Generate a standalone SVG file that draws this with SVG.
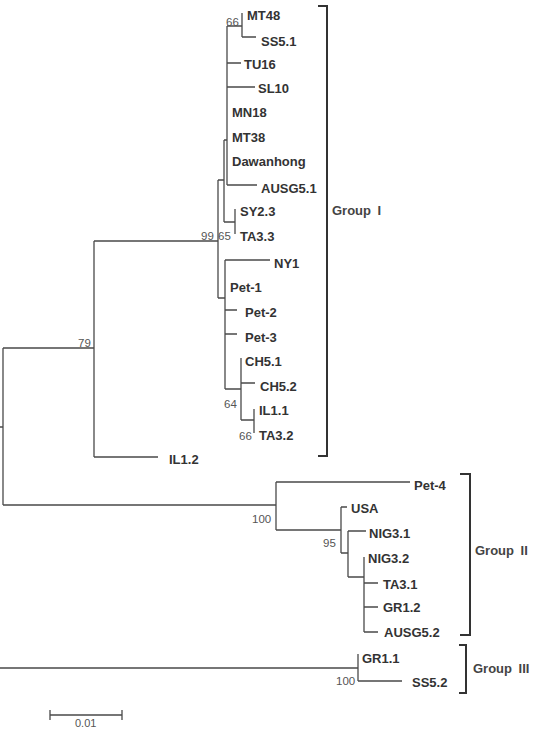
<svg xmlns="http://www.w3.org/2000/svg" width="540" height="729" viewBox="0 0 540 729">
<style>
.e{stroke:#4a4a4a;stroke-width:1.3;fill:none}
.b{stroke:#333;stroke-width:2;fill:none}
.t{font-family:"Liberation Sans",Arial,sans-serif;font-weight:bold;font-size:13px;fill:#333}
.s{font-family:"Liberation Sans",Arial,sans-serif;font-size:11.5px;fill:#555}
.g{font-family:"Liberation Sans",Arial,sans-serif;font-weight:bold;font-size:13px;fill:#444;word-spacing:3px}
</style>
<rect width="540" height="729" fill="#fff"/>
<g id="connectors">
<path class="e" d="M0 427H3M3 348V505M3 348H94M3 505H276"/>
<path class="e" d="M94 241V457M94 457H158M94 241H218"/>
<path class="e" d="M218 180V298M218 180H224M218 298H225"/>
<path class="e" d="M224 140V222M224 140H227M224 222H235M235 209V234"/>
<path class="e" d="M227 26V185M227 26H242M242 13V37M242 37H256M227 63H241M227 87H255M227 185H257"/>
<path class="e" d="M225 260V389M225 260H270M225 310H237M225 334H237M225 389H241M241 358V420M241 383H255M241 420H254M254 409V433"/>
<path class="e" d="M276 482V530M276 482H410M276 530H341M341 507V553M341 507H347M341 553H348M348 531V577M348 531H366M348 577H364M364 557V632M364 583H378M364 607H378M364 632H378"/>
<path class="e" d="M0 668H358M358 654V681M358 681H402"/>
<path class="e" d="M50 715H122M50 710V720M122 710V720"/>
</g>
<g id="brackets">
<path class="b" d="M318 6H327V456H318"/>
<path class="b" d="M460 474H470V635H460"/>
<path class="b" d="M459 645H466V693H459"/>
</g>
<g id="taxa">
<text class="t" x="247" y="19.5">MT48</text>
<text class="t" x="261" y="45.5">SS5.1</text>
<text class="t" x="244" y="68.5">TU16</text>
<text class="t" x="258" y="92.5">SL10</text>
<text class="t" x="232" y="116.5">MN18</text>
<text class="t" x="232" y="141.5">MT38</text>
<text class="t" x="232" y="165.5">Dawanhong</text>
<text class="t" x="261" y="192.5">AUSG5.1</text>
<text class="t" x="240" y="215.5">SY2.3</text>
<text class="t" x="240" y="240.5">TA3.3</text>
<text class="t" x="274" y="267.5">NY1</text>
<text class="t" x="230" y="291.5">Pet-1</text>
<text class="t" x="245" y="316.5">Pet-2</text>
<text class="t" x="245" y="341.5">Pet-3</text>
<text class="t" x="245" y="365.5">CH5.1</text>
<text class="t" x="260" y="390.5">CH5.2</text>
<text class="t" x="259" y="414.5">IL1.1</text>
<text class="t" x="259" y="439.5">TA3.2</text>
<text class="t" x="169" y="463.5">IL1.2</text>
<text class="t" x="414" y="489.5">Pet-4</text>
<text class="t" x="351" y="512.5">USA</text>
<text class="t" x="369" y="537.5">NIG3.1</text>
<text class="t" x="368" y="562.5">NIG3.2</text>
<text class="t" x="383" y="588.5">TA3.1</text>
<text class="t" x="383" y="611.5">GR1.2</text>
<text class="t" x="384" y="636.5">AUSG5.2</text>
<text class="t" x="362" y="662.5">GR1.1</text>
<text class="t" x="412" y="686.5">SS5.2</text>
</g>
<g id="support">
<text class="s" x="226" y="26">66</text>
<text class="s" x="201" y="240">99</text>
<text class="s" x="218" y="240">65</text>
<text class="s" x="78" y="347">79</text>
<text class="s" x="224" y="408">64</text>
<text class="s" x="239" y="440">66</text>
<text class="s" x="252" y="523">100</text>
<text class="s" x="323" y="547">95</text>
<text class="s" x="336" y="685">100</text>
<text class="s" x="75" y="727" style="font-size:11px">0.01</text>
</g>
<g id="groups">
<text class="g" x="332" y="215">Group I</text>
<text class="g" x="475" y="555">Group II</text>
<text class="g" x="473" y="673">Group III</text>
</g>
</svg>
